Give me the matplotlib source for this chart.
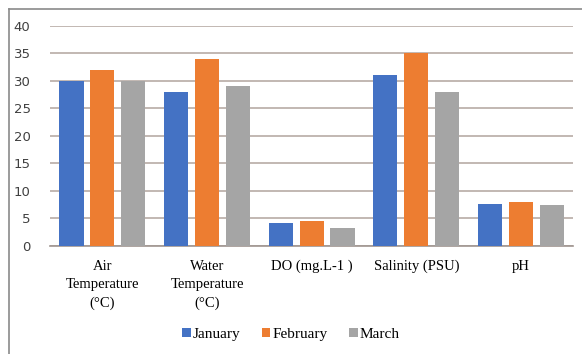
import numpy as np
import matplotlib.pyplot as plt
from matplotlib.lines import Line2D

# Monthly water quality readings
categories = ["Air\nTemperature\n(°C)", "Water\nTemperature\n(°C)", "DO (mg.L-1 )",
              "Salinity (PSU)", "pH"]
months = ["January", "February", "March"]
january = [30, 28, 4.2, 31, 7.6]
february = [32, 34, 4.5, 35, 8.0]
march = [30, 29, 3.3, 28, 7.4]
colors = ["#4472C4", "#ED7D31", "#A5A5A5"]

fig = plt.figure(figsize=(5.82, 3.54), dpi=100)
ax = fig.add_axes([0.086, 0.306, 0.899, 0.621])

x = np.arange(len(categories))
width = 0.23
step = 0.295
for i, (vals, name) in enumerate(zip([january, february, march], months)):
    ax.bar(x + (i - 1) * step, vals, width, color=colors[i], label=name, zorder=3)

ax.set_xlim(-0.5, len(categories) - 0.5)
ax.set_ylim(0, 40)
ax.set_yticks(range(0, 41, 5))
ax.yaxis.grid(True, color="#b8aca6", linewidth=1.2, zorder=0)
ax.tick_params(axis="y", length=0, labelsize=9.5, colors="#404040", pad=14)
ax.tick_params(axis="x", length=0, pad=10)
for lab in ax.get_yticklabels():
    lab.set_fontfamily("DejaVu Sans")
ax.set_xticks(x)
ax.set_xticklabels(categories, fontfamily="Liberation Serif", fontsize=10.5,
                   linespacing=1.55)
for s in ["top", "right", "left"]:
    ax.spines[s].set_visible(False)
ax.spines["bottom"].set_color("#a09590")
ax.spines["bottom"].set_linewidth(1.2)

leg = fig.legend(loc="center", bbox_to_anchor=(0.5, 0.055), ncol=3, frameon=False,
                 prop={"family": "Liberation Serif", "size": 11},
                 handlelength=0.55, handleheight=0.55, handletextpad=0.15,
                 columnspacing=1.4)

# frame around the chart (top and left edges are within the image)
fig.add_artist(Line2D([9 / 582, 1], [1 - 9 / 354] * 2, transform=fig.transFigure,
                      color="#8a8a8a", linewidth=1.2))
fig.add_artist(Line2D([9 / 582] * 2, [0, 1 - 9 / 354], transform=fig.transFigure,
                      color="#8a8a8a", linewidth=1.2))

fig.savefig("out.png", dpi=100)
